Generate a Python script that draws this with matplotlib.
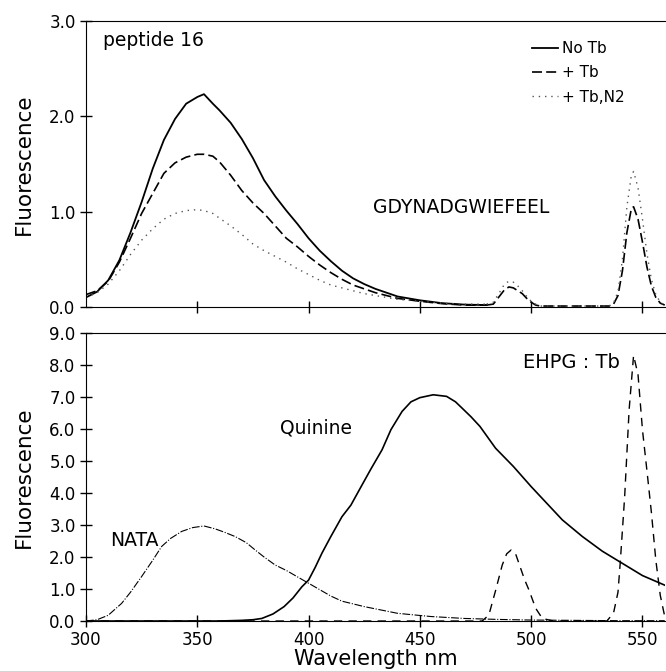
import numpy as np
import matplotlib
matplotlib.use("Agg")
import matplotlib.pyplot as plt

# ---- top panel: peptide 16 ----
wl_top = [300, 305, 310, 315, 320, 325, 330, 335, 340, 345, 350, 353, 357,
          360, 365, 370, 375, 380, 385, 390, 395, 400, 405, 410, 415, 420,
          425, 430, 435, 440, 450, 460, 470, 480]
no_tb = [0.10, 0.16, 0.28, 0.49, 0.78, 1.10, 1.45, 1.75, 1.97, 2.13, 2.20,
         2.23, 2.13, 2.06, 1.93, 1.76, 1.56, 1.33, 1.16, 1.01, 0.87, 0.72,
         0.59, 0.48, 0.38, 0.30, 0.24, 0.19, 0.15, 0.11, 0.07, 0.04, 0.025, 0.02]
tb = [0.13, 0.17, 0.27, 0.47, 0.72, 0.98, 1.19, 1.40, 1.51, 1.57, 1.60,
      1.60, 1.58, 1.52, 1.38, 1.22, 1.09, 0.98, 0.85, 0.72, 0.63, 0.53,
      0.44, 0.36, 0.29, 0.23, 0.19, 0.15, 0.12, 0.09, 0.06, 0.035, 0.02, 0.02]
tb_n2 = [0.10, 0.15, 0.24, 0.38, 0.55, 0.70, 0.82, 0.92, 0.98, 1.01, 1.02,
         1.01, 0.98, 0.93, 0.85, 0.76, 0.66, 0.59, 0.53, 0.47, 0.40, 0.34,
         0.28, 0.23, 0.20, 0.17, 0.14, 0.12, 0.10, 0.08, 0.06, 0.04, 0.03, 0.03]

# terbium emission bands
wl_tb = [480, 483, 486, 488, 490, 492, 494, 496, 498, 500, 502, 504, 520,
         535, 537, 539, 541, 543, 545, 546, 548, 550, 552, 554, 556, 558, 560]
tb_band = [0.02, 0.03, 0.12, 0.18, 0.21, 0.20, 0.17, 0.14, 0.09, 0.05, 0.02,
           0.01, 0.01, 0.01, 0.03, 0.12, 0.38, 0.78, 1.03, 1.05, 0.92, 0.68,
           0.42, 0.22, 0.10, 0.04, 0.02]
tbn2_band = [0.03, 0.05, 0.16, 0.24, 0.27, 0.26, 0.22, 0.17, 0.11, 0.06, 0.03,
             0.01, 0.01, 0.01, 0.04, 0.16, 0.50, 1.05, 1.38, 1.42, 1.25, 0.92,
             0.56, 0.29, 0.13, 0.05, 0.02]

# ---- bottom panel: references ----
wl_nata = [300, 305, 310, 316, 320, 325, 330, 334, 338, 343, 348, 353, 358,
           362, 367, 372, 376, 380, 385, 390, 397, 400, 405, 410, 415, 425,
           440, 455, 470, 485, 500, 520, 540, 560]
nata = [0.00, 0.04, 0.18, 0.55, 0.90, 1.39, 1.90, 2.33, 2.58, 2.80, 2.92,
        2.97, 2.88, 2.78, 2.64, 2.45, 2.22, 2.00, 1.75, 1.58, 1.30, 1.18,
        0.98, 0.78, 0.62, 0.45, 0.24, 0.14, 0.08, 0.05, 0.03, 0.02, 0.01, 0.01]

wl_quin = [300, 360, 370, 375, 379, 384, 389, 393, 397, 400, 403, 406, 410,
           415, 419, 424, 428, 433, 437, 442, 446, 450, 456, 462, 466, 469,
           473, 477, 484, 492, 500, 507, 514, 523, 532, 541, 550, 560]
quinine = [0.0, 0.0, 0.02, 0.04, 0.08, 0.22, 0.45, 0.72, 1.07, 1.28, 1.68,
           2.12, 2.64, 3.26, 3.62, 4.25, 4.75, 5.35, 5.98, 6.55, 6.85, 6.98,
           7.07, 7.02, 6.85, 6.65, 6.38, 6.08, 5.40, 4.83, 4.20, 3.68, 3.16,
           2.64, 2.18, 1.80, 1.42, 1.12]

wl_ehpg = [300, 478, 481, 484, 487, 489, 491, 493, 495, 497, 499, 502, 505,
           510, 534, 537, 539, 540, 542, 544, 546, 548, 550, 552, 554, 556,
           558, 560]
ehpg = [0.0, 0.0, 0.19, 0.95, 1.75, 2.10, 2.22, 2.10, 1.70, 1.30, 0.97, 0.40,
        0.08, 0.0, 0.0, 0.25, 0.90, 1.81, 3.89, 6.60, 8.30, 7.70, 5.97, 4.70,
        3.40, 1.90, 0.80, 0.14]

fig = plt.figure(figsize=(6.66, 6.71), dpi=100)
plt.rcParams['font.family'] = ['DejaVu Sans']

ax1 = fig.add_axes([0.1291, 0.5425, 0.869, 0.4267])
ax2 = fig.add_axes([0.1291, 0.0745, 0.869, 0.4292])

dash_tb = (0, (6, 2.5))
dot_n2 = (0, (1, 3.5))

ax1.plot(wl_top, no_tb, color='black', lw=1.3, label='No Tb')
ax1.plot(wl_top, tb, color='black', lw=1.2, ls=dash_tb, label='+ Tb')
ax1.plot(wl_top, tb_n2, color='#555555', lw=1.0, ls=dot_n2, label='+ Tb,N2')
ax1.plot(wl_tb, tb_band, color='black', lw=1.2, ls=dash_tb)
ax1.plot(wl_tb, tbn2_band, color='#555555', lw=1.0, ls=dot_n2)

ax2.plot(wl_nata, nata, color='black', lw=0.8, ls=(0, (7, 1.5, 1, 1.5)))
ax2.plot(wl_quin, quinine, color='black', lw=1.2)
ax2.plot(wl_ehpg, ehpg, color='black', lw=1.0, ls=(0, (6, 4.5)))

for ax in (ax1, ax2):
    ax.set_xlim(300, 560)
    ax.spines['right'].set_visible(False)
    ax.tick_params(direction='inout', length=8, width=1, labelsize=12)
    ax.set_ylabel('Fluorescence', fontsize=15.5, labelpad=11)

ax1.set_ylim(0, 3.0)
ax1.set_yticks([0, 1, 2, 3])
ax1.set_yticklabels(['0.0', '1.0', '2.0', '3.0'])
ax1.set_xticks([350, 400, 450, 500, 550])
ax1.tick_params(axis='x', labelbottom=False)

ax2.set_ylim(0, 9.0)
ax2.set_yticks(np.arange(0, 10))
ax2.set_yticklabels([f'{v:.1f}' for v in range(10)])
ax2.set_xticks([300, 350, 400, 450, 500, 550])
ax2.set_xlabel('Wavelength nm', fontsize=15, labelpad=0)

ax1.text(0.029, 0.929, 'peptide 16', transform=ax1.transAxes, fontsize=13.5,
         va='center', ha='left')
ax1.text(0.496, 0.346, 'GDYNADGWIEFEEL', transform=ax1.transAxes,
         fontsize=13.5, va='center', ha='left')
ax1.legend(loc='upper left', bbox_to_anchor=(0.757, 0.955), frameon=False,
           fontsize=11, handlelength=1.7, handletextpad=0.3, borderpad=0,
           labelspacing=0.6)

ax2.text(0.755, 0.899, 'EHPG : Tb', transform=ax2.transAxes, fontsize=14,
         va='center', ha='left')
ax2.text(0.335, 0.670, 'Quinine', transform=ax2.transAxes, fontsize=13.5,
         va='center', ha='left')
ax2.text(0.041, 0.278, 'NATA', transform=ax2.transAxes, fontsize=13.5,
         va='center', ha='left')

fig.savefig('out.png', dpi=100)
